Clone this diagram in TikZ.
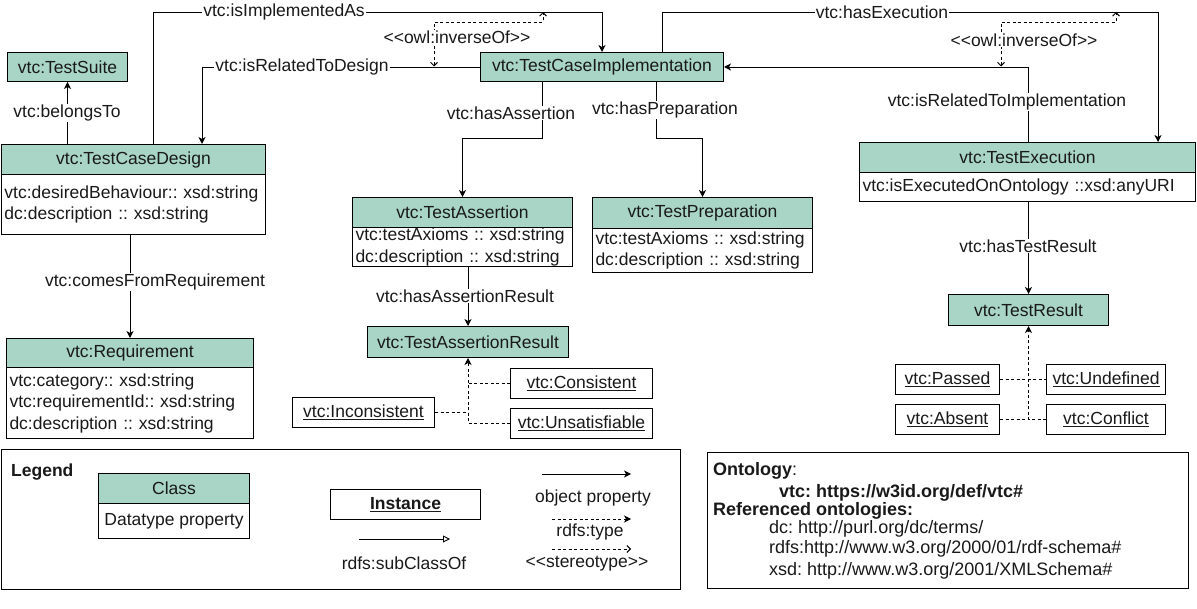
\documentclass[tikz,border=0pt]{standalone}
\usepackage{fontspec}
\setmainfont{Liberation Sans}
\usetikzlibrary{arrows.meta}
\definecolor{clsfill}{RGB}{168,213,198}
\definecolor{txtc}{RGB}{25,25,25}
\newcommand{\fmain}{\fontsize{17.5}{21.5}\selectfont\frenchspacing}
\newcommand{\fleg}{\fontsize{17.5}{20}\selectfont\frenchspacing}
\newcommand{\fonto}{\fontsize{18}{21}\selectfont\frenchspacing}
\newcommand{\dlt}{<\kern0pt<}
\newcommand{\dgt}{>\kern0pt>}
\tikzset{
 hdr/.style={draw=black, line width=1pt, fill=clsfill, anchor=north west, inner sep=0pt, font=\fmain, text=txtc},
 bdy/.style={draw=black, line width=1pt, fill=white, anchor=north west, inner xsep=3pt, inner ysep=0pt, font=\fmain, align=left, text=txtc},
 inst/.style={draw=black, line width=1pt, fill=white, anchor=north west, inner sep=0pt, minimum height=30pt, font=\fmain, text=txtc},
 lbl/.style={fill=white, inner xsep=1pt, inner ysep=1pt, font=\fmain, text=txtc},
 objp/.style={draw=black, line width=0.9pt, -{Stealth[length=7pt,width=7pt,inset=2pt]}},
 dline/.style={draw=black, line width=0.9pt, dash pattern=on 3pt off 2.5pt},
 typp/.style={dline, -{Stealth[length=7pt,width=7pt,inset=2pt]}},
 stereo/.style={dline, {Straight Barb[length=3.5pt,width=7pt]}-{Straight Barb[length=3.5pt,width=7pt]}},
 legtxt/.style={font=\fleg, text=txtc, inner sep=1pt},
 ontotxt/.style={font=\fonto, text=txtc, anchor=west, inner sep=0pt},
}
\begin{document}
\frenchspacing
\begin{tikzpicture}[x=1pt,y=-1pt]
\useasboundingbox (0,0) rectangle (1197,609);

% ---------- classes ----------
\node[hdr, minimum width=120pt, minimum height=29pt] (ts) at (7,52) {vtc:TestSuite};
\node[hdr, minimum width=243pt, minimum height=29pt] (tci) at (480,52) {vtc:TestCaseImplementation};
\node[hdr, minimum width=264pt, minimum height=30pt] (tcd) at (1,144) {vtc:TestCaseDesign};
\node[bdy, text width=258pt, minimum height=60pt] (tcdb) at (1,174) {vtc:desiredBehaviour:: xsd:string\\dc:description :: xsd:string};
\node[hdr, minimum width=220pt, minimum height=30pt] (ta) at (352,197) {vtc:TestAssertion};
\node[bdy, text width=214pt, minimum height=39pt] (tab) at (352,227) {vtc:testAxioms :: xsd:string\\dc:description :: xsd:string};
\node[hdr, minimum width=220pt, minimum height=31pt] (tp) at (592,197) {vtc:TestPreparation};
\node[bdy, text width=214pt, minimum height=44pt] (tpb) at (592,228) {vtc:testAxioms :: xsd:string\\dc:description :: xsd:string};
\node[hdr, minimum width=201pt, minimum height=31pt] (tar) at (367,326) {vtc:TestAssertionResult};
\node[hdr, minimum width=247pt, minimum height=29pt] (req) at (6,338) {vtc:Requirement};
\node[bdy, text width=241pt, minimum height=71pt] (reqb) at (6,367) {vtc:category:: xsd:string\\vtc:requirementId:: xsd:string\\dc:description :: xsd:string};
\node[hdr, minimum width=336pt, minimum height=30pt] (te) at (859,142) {vtc:TestExecution};
\node[bdy, text width=330pt, minimum height=29pt] (teb) at (859,172) {vtc:isExecutedOnOntology ::xsd:anyURI};
\node[hdr, minimum width=160pt, minimum height=31pt] (tr) at (948,294) {vtc:TestResult};

% ---------- instances ----------
\node[inst, minimum width=142pt] (ic) at (510,368) {\underline{vtc:Consistent}};
\node[inst, minimum width=142pt] (iu) at (510,408) {\underline{vtc:Unsatisfiable}};
\node[inst, minimum width=142pt] (ii) at (292,397) {\underline{vtc:Inconsistent}};
\node[inst, minimum width=104pt] (ip) at (895,364) {\underline{vtc:Passed}};
\node[inst, minimum width=119pt] (iud) at (1046,364) {\underline{vtc:Undefined}};
\node[inst, minimum width=104pt] (ia) at (895,404) {\underline{vtc:Absent}};
\node[inst, minimum width=119pt] (icf) at (1046,404) {\underline{vtc:Conflict}};

% ---------- object properties ----------
\draw[objp] (tcd.north -| ts.south) -- (ts.south);
\draw[objp] (tcd.north -| 153,0) |- (tci.north |- 0,12) -- (tci.north);
\draw[objp] (tci.west) -| (tcd.north -| 202,0);
\draw[objp] (tci.south -| 542,0) |- (ta.north |- 0,138) -- (ta.north);
\draw[objp] (tci.south -| 656,0) |- (tp.north |- 0,138) -- (tp.north);
\coordinate (hx) at (1158,12);
\draw[objp] (tci.north -| 662,0) |- (hx) -- (te.north -| hx);
\draw[objp] (te.north -| 1028,0) |- (tci.east);
\draw[objp] (tcdb.south -| req.north) -- (req.north);
\draw[objp] (tab.south -| tar.north) -- (tar.north);
\draw[objp] (teb.south -| tr.north) -- (tr.north);

% ---------- inverseOf ----------
\coordinate (inv1a) at (434,66.5);
\coordinate (inv1b) at (543,12);
\draw[stereo] (inv1a) |- (543,22) -- (inv1b);
\coordinate (inv2a) at (1001,66.5);
\coordinate (inv2b) at (1116,12);
\draw[stereo] (inv2a) |- (1116,22) -- (inv2b);

% ---------- rdf:type ----------
\draw[typp] (iu.west) -| (tar.south);
\draw[dline] (ic.west) -- (ic.west -| tar.south);
\draw[dline] (ii.east) -- (ii.east -| tar.south);
\draw[typp] (ia.east) -| (tr.south);
\draw[dline] (icf.west) -- (icf.west -| tr.south);
\draw[dline] (ip.east) -- (iud.west);

% ---------- labels ----------
\node[lbl] (lb1) at (67,113) {vtc:belongsTo};
\node[lbl] (lb2) at (284,12) {vtc:isImplementedAs};
\node[lbl] (lb3) at (302,67) {vtc:isRelatedToDesign};
\node[lbl] (lb4) at (457,37) {\dlt owl:inverseOf\dgt};
\node[lbl] (lb5) at (511,113) {vtc:hasAssertion};
\node[lbl] (lb6) at (665,110) {vtc:hasPreparation};
\node[lbl] (lb7) at (882,12) {vtc:hasExecution};
\node[lbl] (lb8) at (1024,40) {\dlt owl:inverseOf\dgt};
\node[lbl] (lb9) at (1007,102) {vtc:isRelatedToImplementation};
\node[lbl] (lb10) at (155,282) {vtc:comesFromRequirement};
\node[lbl] (lb11) at (465,296) {vtc:hasAssertionResult};
\node[lbl] (lb12) at (1028,246) {vtc:hasTestResult};

% ---------- legend ----------
\node[draw=black, line width=1pt, anchor=north west, minimum width=679pt, minimum height=140pt, inner sep=0pt] (leg) at (1,449) {};
\node[legtxt, font={\fleg\bfseries}, anchor=west] (legt) at (10,472) {Legend};
\node[hdr, font=\fleg, minimum width=151pt, minimum height=30pt] (lcls) at (98,473) {Class};
\node[inst, font=\fleg, minimum width=151pt, minimum height=35pt] (lcb) at (98,503) {Datatype property};
\node[inst, font={\fleg\bfseries}, minimum width=150pt] (linst) at (330,489) {\underline{Instance}};
\coordinate (sc1) at (359,539); \coordinate (sc2) at (450,539);
\draw[line width=0.9pt, -{Triangle[open,length=7pt,width=7pt]}] (sc1) -- (sc2);
\node[legtxt] (lsc) at (404,563) {rdfs:subClassOf};
\coordinate (op1) at (542,474); \coordinate (op2) at (631,474);
\draw[objp] (op1) -- (op2);
\node[legtxt] (lop) at (593,498) {object property};
\coordinate (ty1) at (552,519); \coordinate (ty2) at (631,519);
\draw[typp] (ty1) -- (ty2);
\node[legtxt] (lty) at (590,532) {rdfs:type};
\coordinate (st1) at (552,549); \coordinate (st2) at (631,549);
\draw[dline, -{Straight Barb[length=3.5pt,width=7pt]}] (st1) -- (st2);
\node[legtxt] (lst) at (587,564) {\dlt stereotype\dgt};

% ---------- ontology box ----------
\node[draw=black, line width=1pt, anchor=north west, minimum width=481pt, minimum height=136pt, inner sep=0pt] (onto) at (707,452) {};
\node[ontotxt] (o1) at (713,471) {\textbf{Ontology}:};
\node[ontotxt, font={\fonto\bfseries}] (o2) at (779,493) {vtc: https://w3id.org/def/vtc\#};
\node[ontotxt, font={\fonto\bfseries}] (o3) at (713,511) {Referenced ontologies:};
\node[ontotxt] (o4) at (769,529) {dc: http://purl.org/dc/terms/};
\node[ontotxt] (o5) at (769,549) {rdfs:http://www.w3.org/2000/01/rdf-schema\#};
\node[ontotxt] (o6) at (769,571) {xsd: http://www.w3.org/2001/XMLSchema\#};
\end{tikzpicture}
\end{document}
